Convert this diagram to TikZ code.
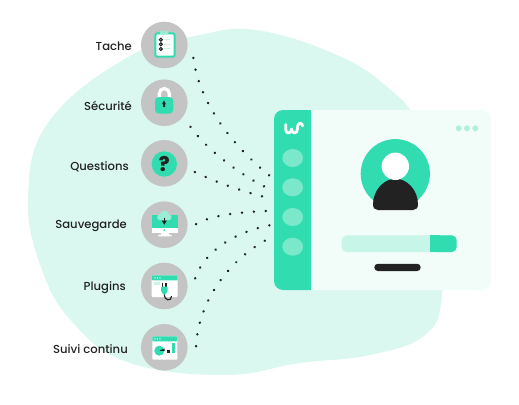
\documentclass[tikz,border=0pt]{standalone}
\usepackage{fontspec}
\setmainfont{Poppins Medium}
\definecolor{teal1}{HTML}{31DDB0}
\definecolor{blob}{HTML}{DAF8EF}
\definecolor{winbg}{HTML}{F2FDF9}
\definecolor{pill}{HTML}{7BE8CC}
\definecolor{pale}{HTML}{B2F0DE}
\definecolor{barbg}{HTML}{C7F5E7}
\definecolor{ink}{HTML}{222222}
\definecolor{disc}{HTML}{C4C4C4}
\definecolor{lightmint}{HTML}{9BECD6}
\tikzset{
  iconbg/.style={circle,fill=disc,minimum size=46.6pt,inner sep=0pt,outer sep=8.5pt},
  lab/.style={anchor=east,font=\fontsize{11.6pt}{13pt}\selectfont,text=ink,inner sep=0pt},
  conn/.style={ink,line width=2.7pt,line cap=round,dash pattern=on 0.01pt off 11.9pt},
  sidepill/.style={ellipse,fill=pill,minimum width=20.7pt,minimum height=18pt,inner sep=0pt},
  tinydot/.style={circle,fill=pale,minimum size=6pt,inner sep=0pt},
}
\usetikzlibrary{shapes.geometric}
\begin{document}
\begin{tikzpicture}[x=1pt,y=-1pt]
\useasboundingbox (0,0) rectangle (519,404);
% blob
\fill[blob] plot[smooth cycle,tension=.7] coordinates {(255,30) (330,52) (385,85) (420,130) (438,220) (442,295) (425,335) (370,355) (300,363) (225,375) (130,363) (75,325) (42,270) (28,195) (50,120) (130,56) (200,35)};
% window
\node[rectangle,rounded corners=9pt,fill=winbg,minimum width=217pt,minimum height=180pt,inner sep=0pt] (window) at (382.5,200) {};
\fill[teal1,rounded corners=9pt] (311,110) -- (274,110) -- (274,290) -- (311,290);
\fill[teal1] (300,110) rectangle (311,290);
\node[sidepill] (p1) at (292.7,158) {};
\node[sidepill] (p2) at (292.7,187.3) {};
\node[sidepill] (p3) at (292.7,217) {};
\node[sidepill] (p4) at (292.7,246.7) {};
% logo
\draw[white,line width=2.8pt,line cap=round,line join=round] (285.7,124.5) -- (285.7,129.5) .. controls (285.7,134.2) and (291.5,134.2) .. (291.5,129) .. controls (291.5,134.2) and (297.5,134.2) .. (297.5,129) -- (297.5,127) .. controls (297.5,122.2) and (302.5,122.2) .. (302.5,126);
\node[tinydot] (d1) at (458.7,128.3) {};
\node[tinydot] (d2) at (467,128.3) {};
\node[tinydot] (d3) at (475.3,128.3) {};
% avatar
\node[circle,fill=teal1,minimum size=69.2pt,inner sep=0pt] (avatar) at (395.3,173.7) {};
\fill[ink] (373,204.5) .. controls (373,190) and (384,178.7) .. (395.5,178.7) .. controls (407,178.7) and (418,190) .. (418,204.5) .. controls (418,208) and (416,210) .. (413,210) -- (378,210) .. controls (375,210) and (373,208) .. (373,204.5) -- cycle;
\node[circle,fill=white,minimum size=27.4pt,inner sep=0pt] (head) at (395.3,166.3) {};
% progress
\node[rectangle,rounded corners=5pt,fill=barbg,minimum width=115pt,minimum height=16.7pt,inner sep=0pt] (bar) at (399.2,243.7) {};
\fill[teal1,rounded corners=5pt] (435,235.3) -- (456.7,235.3) -- (456.7,252) -- (435,252);
\fill[teal1] (430,235.3) rectangle (440,252);
\node[rectangle,rounded corners=3.6pt,fill=ink,minimum width=46.4pt,minimum height=7.3pt,inner sep=0pt] (pillbar) at (397.5,267.4) {};
% icon discs
\node[iconbg] (tache) at (164.3,45) {};
\node[iconbg] (secu) at (164.3,102.7) {};
\node[iconbg] (quest) at (164.3,163.3) {};
\node[iconbg] (sauv) at (164.3,224.7) {};
\node[iconbg] (plug) at (164.3,286) {};
\node[iconbg] (suivi) at (164.3,347.3) {};
% labels
\node[lab] (l1) at (132,46.5) {Tache};
\node[lab] (l2) at (132,105.5) {Sécurité};
\node[lab] (l3) at (129,166.5) {Questions};
\node[lab] (l4) at (127,225.5) {Sauvegarde};
\node[lab] (l5) at (126,287.5) {Plugins};
\node[lab] (l6) at (128,349) {Suivi continu};
% connectors
\coordinate (e1) at (270,176);
\coordinate (e2) at (274,191);
\coordinate (e3) at (273,199);
\coordinate (e4) at (267,211);
\coordinate (e5) at (271,225);
\coordinate (e6) at (266,240);
\draw[conn] (tache.-24) .. controls (199,100) and (228,142) .. (e1);
\draw[conn,dash phase=8pt] (secu.-41) .. controls (203,147) and (243,178) .. (e2);
\draw[conn] (quest.-16) .. controls (220,184) and (247,193) .. (e3);
\draw[conn] (sauv.1) .. controls (213,214) and (245,212) .. (e4);
\draw[conn] (plug.14) .. controls (203,255) and (229,233) .. (e5);
\draw[conn] (suivi.2) .. controls (198,305) and (225,263) .. (e6);
% Tache icon
\draw[teal1,fill=white,line width=2pt,rounded corners=2pt] (155.3,33.3) rectangle (174.7,56.7);
\fill[lightmint,rounded corners=1pt] (160,30.7) rectangle (168.3,34.5);
\foreach \yy in {39.7,44.3,49}{
  \draw[ink,line width=1.1pt] (160.9,\yy) circle (1.5);
  \draw[barbg,line width=1pt] (164,\yy) -- (170,\yy);
}
% Lock icon
\draw[white,line width=3.2pt] (159.3,98) -- (159.3,93.5) arc[start angle=180,end angle=360,radius=5] -- (169.3,98);
\fill[teal1,rounded corners=4pt] (155,97) rectangle (173.3,113.7);
\fill[ink] (164,100.3) -- (165.8,104) -- (165,104) -- (165,107.2) -- (163,107.2) -- (163,104) -- (162.2,104) -- cycle;
% Question icon
\node[circle,fill=teal1,minimum size=25.4pt,inner sep=0pt,text=ink,font=\fontsize{20pt}{20pt}\selectfont\bfseries] (qmark) at (164.3,164) {?};
% Backup icon
\fill[teal1] (151.7,215) rectangle (178.3,228.3);
\fill[white] (151.7,228.3) rectangle (178.3,232.7);
\fill[white] (160.7,232.7) rectangle (169,235);
\fill[white,rounded corners=.5pt] (158.3,234.5) rectangle (171.7,236.3);
\fill[lightmint] (159.5,220) .. controls (156.3,220) and (156.5,214.5) .. (159.7,214.5) .. controls (160,209.5) and (169,209.5) .. (169.3,214.5) .. controls (172,214.5) and (172.3,220) .. (169.5,220) -- cycle;
\draw[ink,line width=1.6pt] (164.3,217.5) -- (164.3,221);
\fill[ink] (161.7,220.5) -- (166.9,220.5) -- (164.3,224.7) -- cycle;
\fill[teal1] (164.3,230.2) circle (1);
% Plugin icon
\fill[white,rounded corners=1pt] (151.7,275.3) rectangle (177.7,297);
\fill[teal1,rounded corners=1pt] (151.7,275.3) rectangle (177.7,280.3);
\foreach \xx in {155,157.5,160}{\fill[white] (\xx,277.8) circle (.7);}
\fill[barbg] (154.3,282) rectangle (160,285.3);
\draw[ink,line width=1.2pt,line cap=round] (164.5,293) .. controls (163.5,301.5) and (171.5,301.5) .. (171.5,296.5);
\fill[ink] (161.8,283) rectangle (163.2,288);
\fill[ink] (165.4,283) rectangle (166.8,288);
\fill[teal1,rounded corners=1pt] (161,286.5) -- (167.7,286.5) -- (167.7,291) -- (165.6,294.5) -- (163.1,294.5) -- (161,291) -- cycle;
% Suivi icon
\fill[white,rounded corners=1pt] (152.3,336.3) rectangle (177.3,359.7);
\fill[teal1,rounded corners=1pt] (152.3,336.3) rectangle (177.3,341.3);
\foreach \xx in {155,157.5,160}{\fill[white] (\xx,338.8) circle (.7);}
\fill[teal1] (159.3,350.7) circle (5);
\fill[ink] (159.3,350.7) -- (164.5,348.5) -- (164.5,351) -- cycle;
\fill[ink] (166.7,349.7) rectangle (170,353);
\fill[teal1] (171.7,343) rectangle (175,353);
\end{tikzpicture}
\end{document}
